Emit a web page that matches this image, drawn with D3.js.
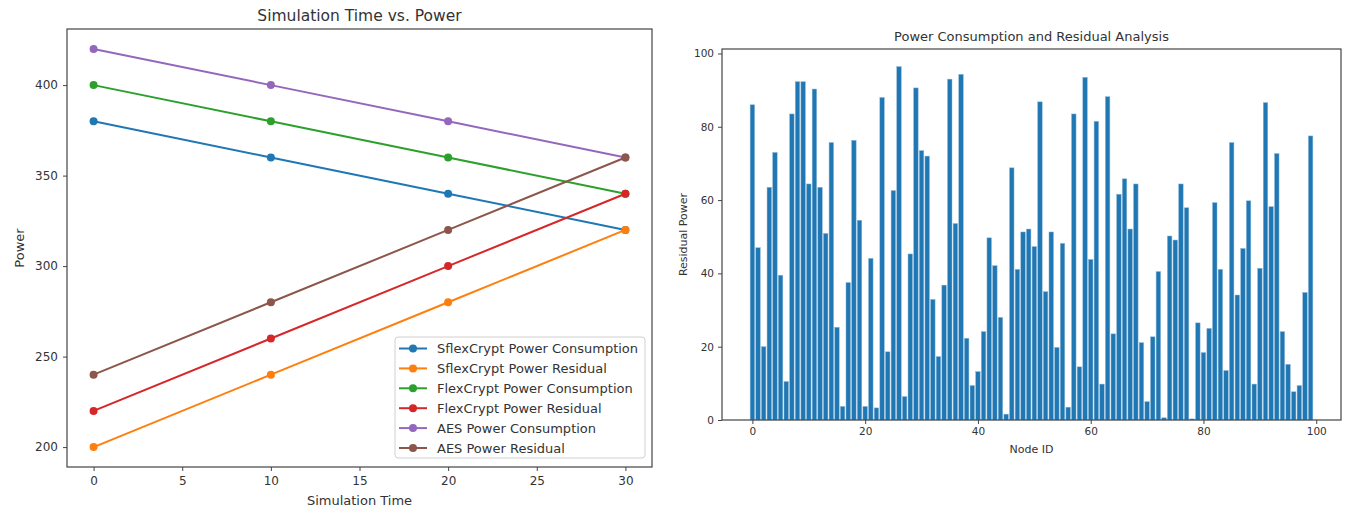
<!DOCTYPE html>
<html>
<head>
<meta charset="utf-8">
<script src="https://cdn.jsdelivr.net/npm/d3@7"></script>
<style>
  body { margin: 0; background: #fff; }
  text { font-family: "DejaVu Sans", sans-serif; fill: #333; }
  .axis path, .axis line { stroke: #444; }
  .axis text { fill: #333; }
</style>
</head>
<body>
<div id="chart"></div>
<script>
var times = [0, 10, 20, 30];
var sflexConsumption = [380, 360, 340, 320];
var sflexResidual = [200, 240, 280, 320];
var flexConsumption = [400, 380, 360, 340];
var flexResidual = [220, 260, 300, 340];
var aesConsumption = [420, 400, 380, 360];
var aesResidual = [240, 280, 320, 360];

var seriesNames = ["SflexCrypt Power Consumption", "SflexCrypt Power Residual",
  "FlexCrypt Power Consumption", "FlexCrypt Power Residual",
  "AES Power Consumption", "AES Power Residual"];
var seriesColors = ["#1f77b4", "#ff7f0e", "#2ca02c", "#d62728", "#9467bd", "#8c564b"];

var nodeResidual = [
  86, 47, 20, 63.5, 73, 39.5, 10.5, 83.5, 92.3, 92.3,
  64.4, 90.3, 63.5, 50.9, 75.7, 25.3, 3.7, 37.5, 76.3, 54.5,
  3.7, 44.1, 3.3, 88, 18.6, 62.6, 96.4, 6.4, 45.3, 90.6,
  73.5, 72, 32.9, 17.3, 36.8, 93, 53.6, 94.3, 22.3, 9.4,
  13.2, 24.1, 49.7, 42.1, 28, 1.6, 68.8, 41.1, 51.3, 52.1,
  47.3, 86.8, 35, 51.3, 19.8, 48.2, 3.5, 83.5, 14.5, 93.5,
  43.8, 81.5, 9.8, 88.2, 23.5, 61.6, 65.8, 52.1, 64.4, 21.1,
  5, 22.7, 40.5, 0.6, 50.2, 49.1, 64.4, 57.9, 0.3, 26.5,
  18.4, 25, 59.3, 41.1, 13.5, 75.7, 34.1, 46.8, 59.8, 9.8,
  41.4, 86.6, 58.2, 72.7, 24.1, 15.2, 7.7, 9.4, 34.8, 77.5
];
var nodeTicks = [0, 20, 40, 60, 80, 100];

var svgWidth = 1348;
var svgHeight = 510;

var svg = d3.select("#chart")
  .append("svg")
  .attr("width", svgWidth)
  .attr("height", svgHeight);

// ---------- left: line chart ----------
var left = {x0: 67, x1: 652, y0: 29, y1: 467};

var series = [sflexConsumption, sflexResidual, flexConsumption, flexResidual, aesConsumption, aesResidual]
  .map(function(vals, i) {
    return {name: seriesNames[i], color: seriesColors[i],
      points: vals.map(function(v, j) { return {t: times[j], p: v}; })};
  });

var allPower = d3.merge(series.map(s => s.points.map(d => d.p)));
var pMin = d3.min(allPower), pMax = d3.max(allPower);
var tMin = d3.min(times), tMax = d3.max(times);

var xTime = d3.scaleLinear()
  .domain([tMin - (tMax - tMin) * 0.05, tMax + (tMax - tMin) * 0.05])
  .range([left.x0, left.x1]);
var yPower = d3.scaleLinear()
  .domain([pMin - (pMax - pMin) * 0.05, pMax + (pMax - pMin) * 0.05])
  .range([left.y1, left.y0]);

var leftG = svg.append("g");

leftG.append("g")
  .attr("class", "axis")
  .attr("transform", `translate(0, ${left.y1})`)
  .call(d3.axisBottom(xTime).tickValues([0, 5, 10, 15, 20, 25, 30]).tickSizeOuter(0).tickSize(4).tickPadding(5))
  .call(g => g.select(".domain").remove())
  .selectAll("text").attr("font-size", "12px");

leftG.append("g")
  .attr("class", "axis")
  .attr("transform", `translate(${left.x0}, 0)`)
  .call(d3.axisLeft(yPower).tickValues([200, 250, 300, 350, 400]).tickSizeOuter(0).tickSize(4).tickPadding(5))
  .call(g => g.select(".domain").remove())
  .selectAll("text").attr("font-size", "12px");

var line = d3.line()
  .x(d => xTime(d.t))
  .y(d => yPower(d.p));

series.forEach(function(s) {
  leftG.append("path")
    .datum(s.points)
    .attr("fill", "none")
    .attr("stroke", s.color)
    .attr("stroke-width", 2)
    .attr("d", line);
  leftG.selectAll(null)
    .data(s.points)
    .enter()
    .append("circle")
    .attr("cx", d => xTime(d.t))
    .attr("cy", d => yPower(d.p))
    .attr("r", 4)
    .attr("fill", s.color);
});

leftG.append("rect")
  .attr("x", left.x0).attr("y", left.y0)
  .attr("width", left.x1 - left.x0).attr("height", left.y1 - left.y0)
  .attr("fill", "none").attr("stroke", "#444").attr("stroke-width", 1.2);

leftG.append("text")
  .attr("x", (left.x0 + left.x1) / 2).attr("y", 21)
  .attr("text-anchor", "middle")
  .attr("font-size", "15.5px")
  .text("Simulation Time vs. Power");

leftG.append("text")
  .attr("x", (left.x0 + left.x1) / 2).attr("y", 505)
  .attr("text-anchor", "middle")
  .attr("font-size", "13px")
  .text("Simulation Time");

leftG.append("text")
  .attr("transform", `translate(24, ${(left.y0 + left.y1) / 2}) rotate(-90)`)
  .attr("text-anchor", "middle")
  .attr("font-size", "13px")
  .text("Power");

// legend
var legend = leftG.append("g").attr("transform", "translate(395, 337)");
legend.append("rect")
  .attr("width", 250).attr("height", 121)
  .attr("rx", 3)
  .attr("fill", "#fff").attr("fill-opacity", 0.85)
  .attr("stroke", "#d0d0d0");
var items = legend.selectAll("g.item")
  .data(series)
  .enter()
  .append("g")
  .attr("class", "item")
  .attr("transform", (d, i) => `translate(0, ${11.5 + i * 19.9})`);
items.append("line")
  .attr("x1", 4).attr("x2", 32)
  .attr("stroke", d => d.color).attr("stroke-width", 2);
items.append("circle")
  .attr("cx", 18).attr("r", 4)
  .attr("fill", d => d.color);
items.append("text")
  .attr("x", 42).attr("dy", "0.35em")
  .attr("font-size", "13px")
  .text(d => d.name);

// ---------- right: bar chart ----------
var right = {x0: 722, x1: 1341, y0: 49, y1: 420};

var nodes = nodeResidual.map((v, i) => ({id: i, value: v}));

var xNode = d3.scaleLinear()
  .domain([-0.4 - 99.8 * 0.05, 99.4 + 99.8 * 0.05])
  .range([right.x0, right.x1]);
var yResidual = d3.scaleLinear()
  .domain([0, d3.max(nodeResidual) * 1.05])
  .range([right.y1, right.y0]);

var rightG = svg.append("g");

var barW = xNode(0.8) - xNode(0);
rightG.selectAll("rect.bar")
  .data(nodes)
  .enter()
  .append("rect")
  .attr("class", "bar")
  .attr("x", d => xNode(d.id) - barW / 2)
  .attr("y", d => yResidual(d.value))
  .attr("width", barW)
  .attr("height", d => yResidual(0) - yResidual(d.value))
  .attr("fill", "#1f77b4")
  .attr("stroke", "#8fb8d8")
  .attr("stroke-width", 0.5);

rightG.append("g")
  .attr("class", "axis")
  .attr("transform", `translate(0, ${right.y1})`)
  .call(d3.axisBottom(xNode).tickValues(nodeTicks).tickSizeOuter(0).tickSize(4).tickPadding(4))
  .call(g => g.select(".domain").remove())
  .selectAll("text").attr("font-size", "10.5px");

rightG.append("g")
  .attr("class", "axis")
  .attr("transform", `translate(${right.x0}, 0)`)
  .call(d3.axisLeft(yResidual).tickValues([0, 20, 40, 60, 80, 100]).tickSizeOuter(0).tickSize(4).tickPadding(4))
  .call(g => g.select(".domain").remove())
  .selectAll("text").attr("font-size", "10.5px");

rightG.append("rect")
  .attr("x", right.x0).attr("y", right.y0)
  .attr("width", right.x1 - right.x0).attr("height", right.y1 - right.y0)
  .attr("fill", "none").attr("stroke", "#444").attr("stroke-width", 1.2);

rightG.append("text")
  .attr("x", (right.x0 + right.x1) / 2).attr("y", 41)
  .attr("text-anchor", "middle")
  .attr("font-size", "13px")
  .text("Power Consumption and Residual Analysis");

rightG.append("text")
  .attr("x", (right.x0 + right.x1) / 2).attr("y", 453)
  .attr("text-anchor", "middle")
  .attr("font-size", "11px")
  .text("Node ID");

rightG.append("text")
  .attr("transform", `translate(687, ${(right.y0 + right.y1) / 2}) rotate(-90)`)
  .attr("text-anchor", "middle")
  .attr("font-size", "11px")
  .text("Residual Power");
</script>
</body>
</html>
